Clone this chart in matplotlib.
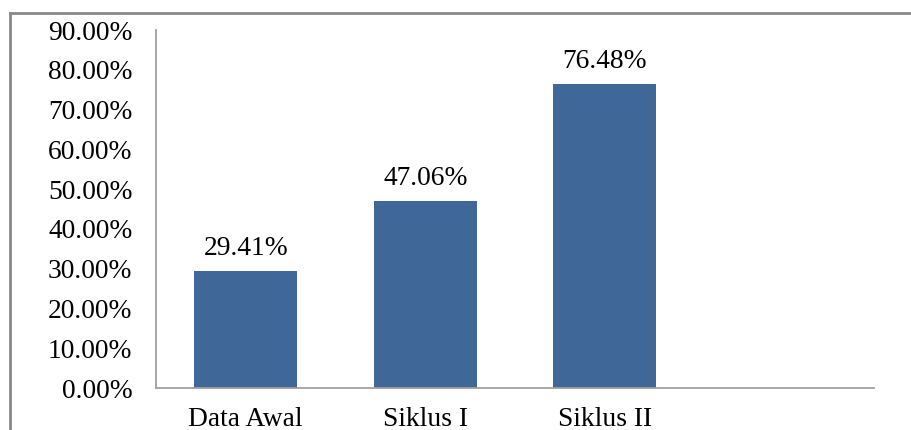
import matplotlib.pyplot as plt
from matplotlib.lines import Line2D

categories = ["Data Awal", "Siklus I", "Siklus II", ""]
values = [29.41, 47.06, 76.48, None]
labels = ["29.41%", "47.06%", "76.48%"]

BAR_COLOR = "#3F6899"
FONT = ["Liberation Serif", "DejaVu Serif"]
FSIZE = 19.8

plt.rcParams["font.family"] = FONT

fig = plt.figure(figsize=(9.11, 4.30), dpi=100)
ax = fig.add_axes([156 / 911, 1 - 388 / 430, (874 - 156) / 911, (388 - 30) / 430])

xs = list(range(len(categories)))
bar_x = [x for x, v in zip(xs, values) if v is not None]
bar_v = [v for v in values if v is not None]
bars = ax.bar(bar_x, bar_v, width=0.575, color=BAR_COLOR)

for rect, text in zip(bars, labels):
    ax.annotate(text, (rect.get_x() + rect.get_width() / 2, rect.get_height()),
                xytext=(0, 7), textcoords="offset points",
                ha="center", va="bottom", fontsize=FSIZE)

ax.set_xlim(-0.5, len(categories) - 0.5)
ax.set_ylim(0, 90)
ax.set_yticks(range(0, 91, 10))
ax.set_yticklabels([f"{t:.2f}%" for t in range(0, 91, 10)], fontsize=FSIZE)
ax.set_xticks(xs)
ax.set_xticklabels(categories, fontsize=FSIZE)
ax.tick_params(axis="y", length=0, pad=17)
ax.tick_params(axis="x", length=0, pad=14)

for side in ("top", "right"):
    ax.spines[side].set_visible(False)
for side in ("left", "bottom"):
    ax.spines[side].set_color("#A0A0A0")
    ax.spines[side].set_linewidth(1.3)

# outer frame, cropped at right and bottom
x0 = 10 / 911
y0 = 1 - 13 / 430
fig.add_artist(Line2D([x0, x0], [0, y0], transform=fig.transFigure, color="#888888", lw=2))
fig.add_artist(Line2D([x0, 1], [y0, y0], transform=fig.transFigure, color="#888888", lw=2))

fig.savefig("out.png", dpi=100)
